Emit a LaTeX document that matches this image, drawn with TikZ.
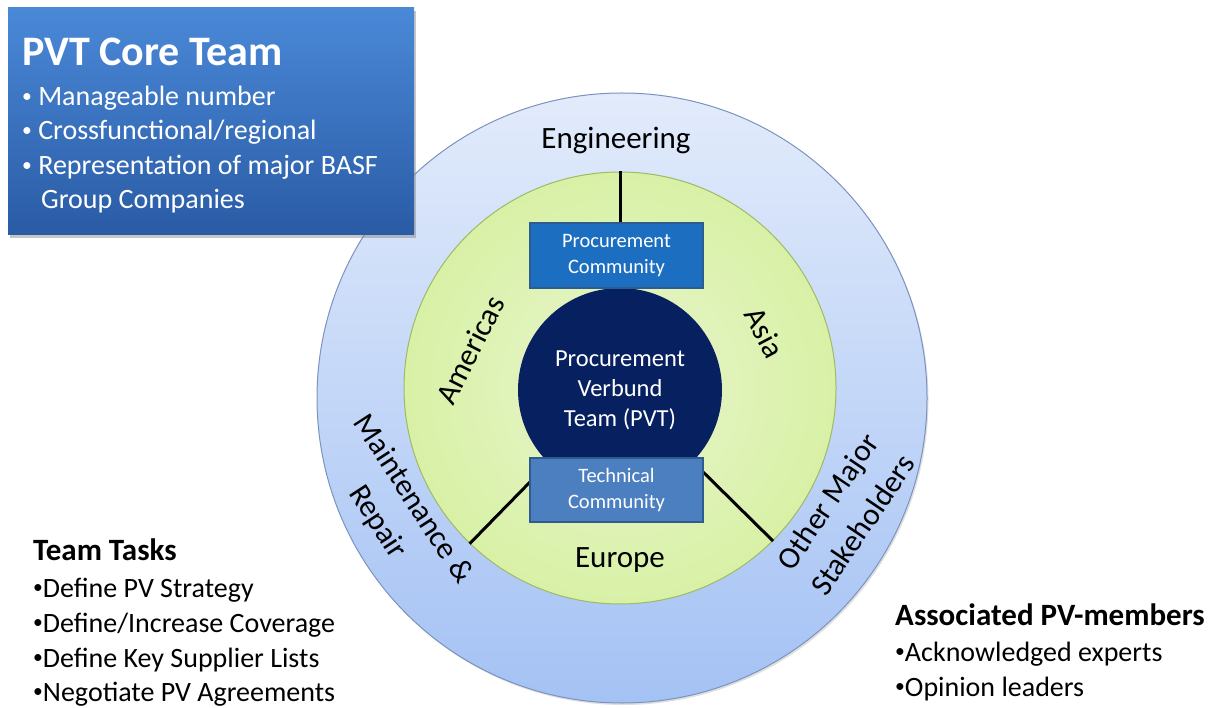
\documentclass[tikz,border=0pt]{standalone}
\usepackage{fontspec}
\setmainfont{Carlito}
\usetikzlibrary{shadows}
\definecolor{outerTop}{HTML}{E2EBFB}
\definecolor{outerBot}{HTML}{A4C2F4}
\definecolor{outerLine}{HTML}{7C93BE}
\definecolor{greenIn}{HTML}{E9F5CE}
\definecolor{greenOut}{HTML}{D8F1A6}
\definecolor{greenLine}{HTML}{9DBB63}
\definecolor{navy}{HTML}{062060}
\definecolor{pcBlue}{HTML}{1C6EC0}
\definecolor{tcBlue}{HTML}{4B7FC0}
\definecolor{boxLine}{HTML}{2E5C8F}
\definecolor{coreTop}{HTML}{4A89D8}
\definecolor{coreBot}{HTML}{2A5BA5}
\newcommand{\smbul}{\raisebox{0.12em}{\scalebox{0.7}{\textbullet}}}
\tikzset{
  commbox/.style={draw=boxLine, line width=1.2pt, minimum width=173pt, minimum height=65pt,
    inner sep=0pt, align=center, text=white, font=\fontsize{20.5}{26}\selectfont},
  ringlabel/.style={align=center, font=\fontsize{31}{42}\selectfont, inner sep=0pt},
  spoke/.style={line width=3pt, black},
  bodytext/.style={anchor=base west, inner sep=0pt, font=\fontsize{28}{34}\selectfont},
  headtext/.style={anchor=base west, inner sep=0pt, font=\fontsize{31}{36}\selectfont\bfseries},
}
\begin{document}
\begin{tikzpicture}[x=1pt,y=1pt]
\useasboundingbox (0,0) rectangle (1222,707);
% outer ring
\node[circle, minimum size=610pt, inner sep=0pt, draw=outerLine, line width=1pt,
  top color=outerTop, bottom color=outerBot,
  drop shadow={shadow xshift=1.5pt, shadow yshift=-2pt, opacity=0.25}] (outer) at (622,309) {};
% green ring
\node[circle, minimum size=432pt, inner sep=0pt, draw=greenLine, line width=1pt,
  inner color=greenIn, outer color=greenOut] (green) at (620,319) {};
% spokes
\coordinate (hub) at (620,317);
\draw[spoke] (hub) -- (green.-134.5);
\draw[spoke] (hub) -- (green.-45.5);
% navy core
\node[circle, minimum size=204pt, inner sep=0pt, fill=navy, text=white, align=center,
  font=\fontsize{24.5}{30}\selectfont] (core) at (hub) {Procurement\\Verbund\\Team (PVT)};
% community boxes
\node[commbox, fill=pcBlue] (pc) at (616.5,451.5) {Procurement\\Community};
\node[commbox, fill=tcBlue, minimum height=64pt] (tc) at (616.5,217) {Technical\\Community};
\draw[spoke] (green.north) -- (green.north |- pc.north);
% ring labels
\node[ringlabel] (eng) at (616,566) {Engineering};
\node[ringlabel, rotate=63] (am) at (470,357) {Americas};
\node[ringlabel, rotate=-62] (asia) at (765,374) {Asia};
\node[ringlabel] (eu) at (620,147) {Europe};
\node[ringlabel, rotate=-57] (mr) at (395,196) {Maintenance \&\\Repair};
\node[ringlabel, rotate=56] (oms) at (845,194) {Other Major\\Stakeholders};
% PVT core team box
\node[draw=none, top color=coreTop, bottom color=coreBot, minimum width=406pt, minimum height=227pt,
  inner sep=0pt, drop shadow={shadow xshift=2pt, shadow yshift=-3pt, opacity=0.45}] (corebox) at (211,585.5) {};
\node[anchor=base west, inner sep=0pt, text=white, font=\fontsize{42}{48}\selectfont\bfseries] (coret) at (22,641) {PVT Core Team};
\node[bodytext, text=white] (c1) at (22,601) {\smbul\ Manageable number};
\node[bodytext, text=white] (c2) at (22,567) {\smbul\ Crossfunctional/regional};
\node[bodytext, text=white] (c3) at (22,532) {\smbul\ Representation of major BASF};
\node[bodytext, text=white] (c4) at (41,498) {Group Companies};
% team tasks
\node[headtext] (tt) at (33,147) {Team Tasks};
\node[bodytext] (t1) at (33,110) {\smbul Define PV Strategy};
\node[bodytext] (t2) at (33,75) {\smbul Define/Increase Coverage};
\node[bodytext] (t3) at (33,40) {\smbul Define Key Supplier Lists};
\node[bodytext] (t4) at (33,6) {\smbul Negotiate PV Agreements};
% associated
\node[headtext] (ap) at (895,82) {Associated PV-members};
\node[bodytext] (a1) at (895,46) {\smbul Acknowledged experts};
\node[bodytext] (a2) at (895,11) {\smbul Opinion leaders};
\end{tikzpicture}
\end{document}
